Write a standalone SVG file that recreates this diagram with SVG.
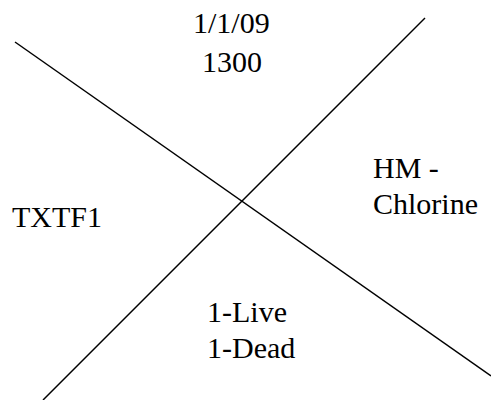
<svg xmlns="http://www.w3.org/2000/svg" width="491" height="400" viewBox="0 0 491 400">
  <style>
    .rule { stroke: #000; stroke-width: 1.5; fill: none; }
    text { font-family: 'Liberation Serif', 'Times New Roman', Times, 'DejaVu Serif', serif; font-size: 30px; fill: #000; }
  </style>
  <rect width="491" height="400" fill="#fff"/>
  <!-- two crossing dividers -->
  <g id="connectors">
    <line class="rule" x1="15" y1="42" x2="491" y2="376"/>
    <line class="rule" x1="425" y1="18" x2="43" y2="400"/>
  </g>
  <g id="top-label">
    <text x="193" y="33">1/1/09</text>
    <text x="202" y="72">1300</text>
  </g>
  <g id="right-label">
    <text x="373" y="178">HM -</text>
    <text x="373" y="214">Chlorine</text>
  </g>
  <g id="left-label">
    <text x="12" y="227">TXTF1</text>
  </g>
  <g id="bottom-label">
    <text x="207" y="322">1-Live</text>
    <text x="207" y="358">1-Dead</text>
  </g>
</svg>
